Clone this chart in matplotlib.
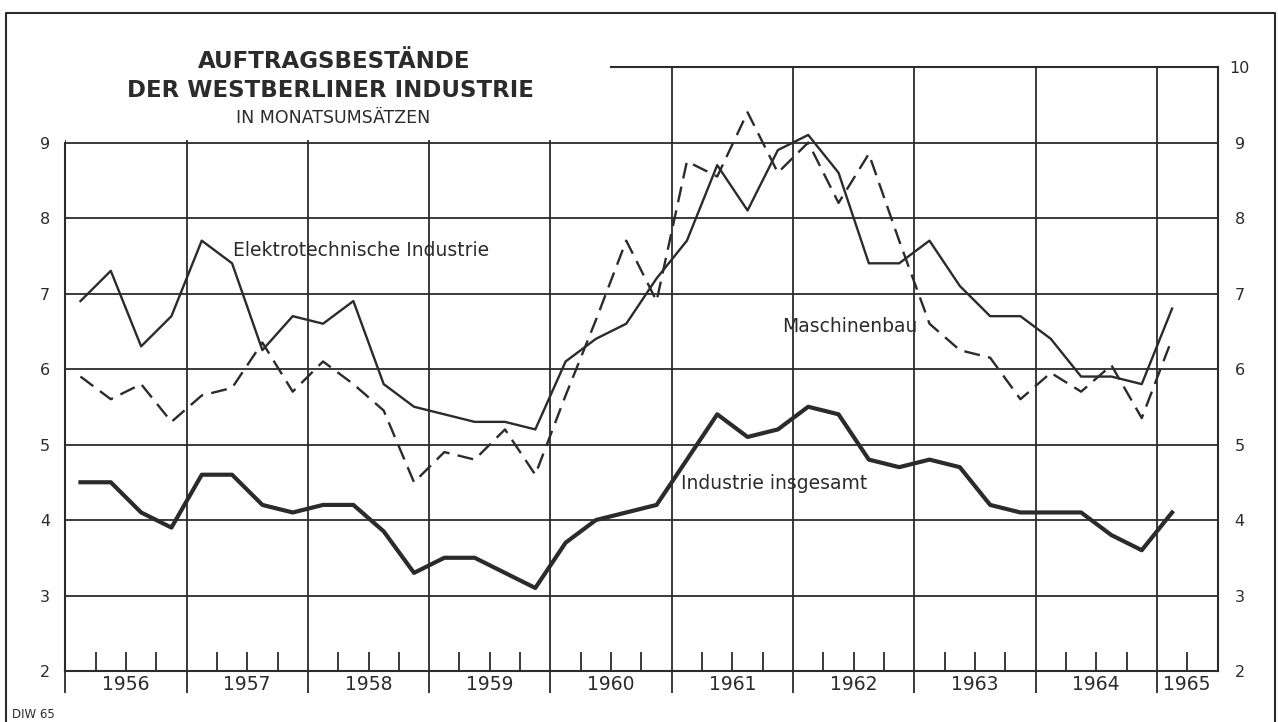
import matplotlib
matplotlib.use("Agg")
import matplotlib.pyplot as plt
from matplotlib.lines import Line2D
from matplotlib.patches import Rectangle
from matplotlib.ticker import FixedLocator, FuncFormatter, NullFormatter
import numpy as np

# quarterly data, 1956 Q1 .. 1965 Q1 (Auftragsbestaende in Monatsumsaetzen)
years = list(range(1956, 1966))
quarters_x = [y + (q - 0.5) / 4 for y in range(1956, 1965) for q in range(1, 5)] + [1965.125]

industrie_insgesamt = [4.5, 4.5, 4.1, 3.9,
                       4.6, 4.6, 4.2, 4.1,
                       4.2, 4.2, 3.85, 3.3,
                       3.5, 3.5, 3.3, 3.1,
                       3.7, 4.0, 4.1, 4.2,
                       4.8, 5.4, 5.1, 5.2,
                       5.5, 5.4, 4.8, 4.7,
                       4.8, 4.7, 4.2, 4.1,
                       4.1, 4.1, 3.8, 3.6,
                       4.1]
elektro = [6.9, 7.3, 6.3, 6.7,
           7.7, 7.4, 6.25, 6.7,
           6.6, 6.9, 5.8, 5.5,
           5.4, 5.3, 5.3, 5.2,
           6.1, 6.4, 6.6, 7.2,
           7.7, 8.7, 8.1, 8.9,
           9.1, 8.6, 7.4, 7.4,
           7.7, 7.1, 6.7, 6.7,
           6.4, 5.9, 5.9, 5.8,
           6.8]
maschinenbau = [5.9, 5.6, 5.8, 5.3,
                5.65, 5.75, 6.35, 5.7,
                6.1, 5.8, 5.45, 4.5,
                4.9, 4.8, 5.2, 4.6,
                5.65, 6.65, 7.7, 6.9,
                8.75, 8.55, 9.4, 8.6,
                9.0, 8.2, 8.85, 7.7,
                6.6, 6.25, 6.15, 5.6,
                5.95, 5.7, 6.05, 5.35,
                6.4]

title_lines = ["AUFTRAGSBESTÄNDE", "DER WESTBERLINER INDUSTRIE", "IN MONATSUMSÄTZEN"]
ink = "#2b2b2b"

plt.rcParams['font.family'] = ['DejaVu Sans']

fig = plt.figure(figsize=(12.78, 7.22), dpi=100)
ax = fig.add_axes([0.0511, 0.0706, 0.9016, 0.8366])
ax.set_xlim(1956, 1965.5)
ax.set_ylim(2, 10)

# grid: year boundaries and whole numbers
ax.set_axisbelow(True)
ax.xaxis.set_major_locator(FixedLocator(years))
ax.xaxis.set_major_formatter(NullFormatter())
minor_pos = [y + f for y in range(1956, 1965) for f in (0.25, 0.5, 0.75)] + [1965.25]
ax.xaxis.set_minor_locator(FixedLocator(minor_pos))

def year_label(v, pos):
    if abs(v - round(v - 0.5) - 0.5) < 1e-6 and v < 1965:
        return str(int(v))
    if abs(v - 1965.25) < 1e-6:
        return "1965"
    return ""
ax.xaxis.set_minor_formatter(FuncFormatter(year_label))

ax.set_yticks(range(2, 10))
ax.grid(True, which='major', color=ink, linewidth=1.3)
ax.tick_params(axis='x', which='major', direction='out', length=16, width=1.3, color=ink)
ax.tick_params(axis='x', which='minor', direction='in', length=14, width=1.3, color=ink,
               labelsize=13.5, pad=3, labelcolor=ink)
ax.tick_params(axis='y', length=0, labelsize=11.5, pad=11, labelcolor=ink)

for s in ax.spines.values():
    s.set_color(ink)
    s.set_linewidth(1.5)
ax.spines['left'].set_bounds(2, 9)
ax.spines['top'].set_bounds(1960.5, 1965.5)

# blank corner for the title
ax.add_patch(Rectangle((1955.9, 9.03), 4.59, 1.2, facecolor='white', edgecolor='none',
                       zorder=1.5, clip_on=False))

ax2 = ax.twinx()
ax2.set_ylim(2, 10)
ax2.set_yticks(range(2, 11))
ax2.tick_params(axis='y', length=0, labelsize=11.5, pad=16, labelcolor=ink)
for lab in ax2.get_yticklabels():
    lab.set_horizontalalignment('center')
for s in ax2.spines.values():
    s.set_visible(False)

lw_thin = 1.7
ax.plot(quarters_x, elektro, color=ink, linewidth=lw_thin, zorder=3)
ax.plot(quarters_x, maschinenbau, color=ink, linewidth=lw_thin, zorder=3,
        linestyle=(0, (11.5 / lw_thin, 6 / lw_thin)))
ax.plot(quarters_x, industrie_insgesamt, color=ink, linewidth=3.0, zorder=3,
        solid_joinstyle='round')

ax.text(1957.38, 7.57, "Elektrotechnische Industrie", fontsize=13.5, color=ink,
        ha='left', va='center', zorder=4)
ax.text(1961.91, 6.56, "Maschinenbau", fontsize=13.5, color=ink, ha='left', va='center', zorder=4)
ax.text(1961.08, 4.49, "Industrie insgesamt", fontsize=13.5, color=ink, ha='left', va='center', zorder=4)

# title
fig.text(0.2613, 0.9155, title_lines[0], fontsize=16.5, fontweight='bold', color=ink,
         ha='center', va='center')
fig.text(0.2582, 0.874, title_lines[1], fontsize=16.5, fontweight='bold', color=ink,
         ha='center', va='center')
fig.text(0.2606, 0.8366, title_lines[2], fontsize=12.5, color=ink, ha='center', va='center')
fig.text(12 / 1278, 1 - 714 / 722, "DIW 65", fontsize=8.5, color=ink, ha='left', va='center')

# outer frame
fx0, fx1, fy1 = 6 / 1278, 1275 / 1278, 1 - 13 / 722
fig.add_artist(Line2D([fx0, fx0, fx1, fx1], [0, fy1, fy1, 0], color=ink, linewidth=1.5))

fig.savefig("out.png", dpi=100, facecolor='white')
